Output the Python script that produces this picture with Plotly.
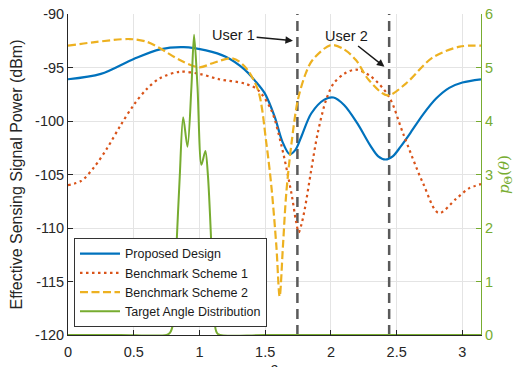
import plotly.graph_objects as go

# ---- data ----
prop_x = [0, 0.25, 0.5, 0.7, 0.88, 1.05, 1.2, 1.344, 1.42, 1.496, 1.572, 1.63, 1.686, 1.73, 1.774, 1.85, 1.95, 2.02,
          2.1, 2.2, 2.3, 2.36, 2.415, 2.47, 2.53, 2.6, 2.7, 2.8, 2.9, 3.0, 3.1416]
prop_y = [-96.1, -95.6, -94.2, -93.3, -93.1, -93.4, -94.0, -95.2, -96.2, -97.4, -99.6, -101.9, -103.1, -102.7, -101.5, -99.3, -98.0, -97.8,
          -98.5, -100.2, -102.3, -103.3, -103.6, -103.3, -102.4, -101.2, -99.4, -97.9, -96.9, -96.4, -96.1]

b1_x = [0, 0.1, 0.2, 0.3, 0.4, 0.5, 0.6, 0.7, 0.85, 1.0, 1.15, 1.344, 1.445, 1.547, 1.62, 1.70, 1.735, 1.755, 1.775, 1.80, 1.85, 1.90,
        1.964, 2.02, 2.1, 2.19, 2.3, 2.44, 2.55, 2.7, 2.82, 2.95, 3.05, 3.1416]
b1_y = [-106.0, -105.6, -104.3, -102.5, -100.4, -98.5, -97.0, -96.0, -95.4, -95.6, -96.1, -96.5, -97.1, -99.0, -102.1, -106.8,
        -109.4, -110.4, -109.7, -108.3, -104.6, -101.1, -98.0, -96.5, -95.6, -95.2, -95.8, -97.7, -101.2, -105.8, -108.6, -107.3, -106.3, -105.9]

b2_x = [0, 0.19, 0.47, 0.6, 0.70, 0.85, 1.0, 1.1, 1.25, 1.344, 1.445, 1.509, 1.547, 1.585, 1.61, 1.635, 1.66, 1.70, 1.749,
        1.81, 1.86, 2.0, 2.1, 2.19, 2.29, 2.43, 2.57, 2.77, 2.98, 3.1416]
b2_y = [-92.96, -92.65, -92.34, -92.6, -93.2, -94.3, -94.98, -94.6, -94.14, -94.9, -97.1, -102.1, -106.1, -111.7, -116.4, -111.7,
        -106.8, -102.1, -98.0, -95.5, -94.3, -92.9, -93.3, -94.3, -96.2, -97.6, -96.5, -94.1, -93.05, -92.96]

tad_x = [0, 0.4, 0.75, 0.775, 0.80, 0.825, 0.85, 0.876, 0.909, 0.939, 0.959, 0.985, 1.015, 1.045, 1.065, 1.091, 1.116,
         1.14, 1.5, 3.1416]
tad_y = [0, 0, 0, 0.04, 0.22, 1.65, 2.96, 4.07, 3.52, 4.64, 5.61, 4.64, 3.18, 3.44, 2.96, 1.65, 0.22,
         0.02, 0, 0]

user_angles = [1.745, 2.443]
user_labels = ["User 1", "User 2"]

y_ticks = [-90, -95, -100, -105, -110, -115, -120]
y_ticktext = ["-90", "-95", "-100", "-105", "-110", "-115", "-120"]
y2_ticks = [0, 1, 2, 3, 4, 5, 6]
x_ticks = [0, 0.5, 1, 1.5, 2, 2.5, 3]
x_ticktext = ["0", "0.5", "1", "1.5", "2", "2.5", "3"]

BLUE = "#0072BD"
RED = "#D95319"
YEL = "#EDB120"
GRN = "#77AC30"
AX = "#262626"
FONT = "Liberation Sans, Arial, sans-serif"

fig = go.Figure()

# vertical user lines
for ua in user_angles:
    fig.add_trace(go.Scatter(x=[ua, ua], y=[-120, -90], mode="lines", showlegend=False,
                             line=dict(color="#5a5a5a", width=2.5, dash="10px,6px"), hoverinfo="skip"))

fig.add_trace(go.Scatter(x=prop_x, y=prop_y, mode="lines", name="Proposed Design",
                         line=dict(color=BLUE, width=2.2, shape="spline", smoothing=0.9)))
fig.add_trace(go.Scatter(x=b1_x, y=b1_y, mode="lines", name="Benchmark Scheme 1",
                         line=dict(color=RED, width=2.2, dash="2.5px,3.5px", shape="spline", smoothing=0.9)))
fig.add_trace(go.Scatter(x=b2_x, y=b2_y, mode="lines", name="Benchmark Scheme 2",
                         line=dict(color=YEL, width=2.2, dash="8px,3.5px", shape="spline", smoothing=0.9)))
fig.add_trace(go.Scatter(x=tad_x, y=tad_y, mode="lines", name="Target Angle Distribution", yaxis="y2",
                         line=dict(color=GRN, width=2, shape="spline", smoothing=0.8)))

# annotations
fig.add_annotation(x=1.711, y=-92.5, ax=1.26, ay=-91.96, xref="x", yref="y", axref="x", ayref="y",
                   text=user_labels[0], showarrow=True, arrowhead=2, arrowsize=1, arrowwidth=1.5,
                   arrowcolor="#1a1a1a", font=dict(family=FONT, size=14.5, color="#1a1a1a"))
fig.add_annotation(x=2.407, y=-94.93, ax=2.115, ay=-92.1, xref="x", yref="y", axref="x", ayref="y",
                   text=user_labels[1], showarrow=True, arrowhead=2, arrowsize=1, arrowwidth=1.5,
                   arrowcolor="#1a1a1a", font=dict(family=FONT, size=14.5, color="#1a1a1a"))
# x-axis title (sits at the bottom edge, as in the reference)
fig.add_annotation(x=0.5, y=-0.08, xref="paper", yref="paper", xanchor="center", yanchor="top",
                   text="θ", showarrow=False, font=dict(family=FONT, size=16, color=AX))

fig.update_layout(
    width=522, height=367,
    margin=dict(l=68, r=41, t=14, b=32),
    paper_bgcolor="white", plot_bgcolor="white",
    font=dict(family=FONT, size=14.5, color=AX),
    showlegend=True,
    legend=dict(x=0.0145, y=0.025, xanchor="left", yanchor="bottom",
                bgcolor="white", bordercolor="#333333", borderwidth=1,
                font=dict(family=FONT, size=12.5, color="#1a1a1a"),
                itemwidth=40, tracegroupgap=0),
    xaxis=dict(range=[0, 3.14159], tickvals=x_ticks, ticktext=x_ticktext,
               showgrid=True, gridcolor="#e4e4e4", gridwidth=1,
               showline=True, linecolor=AX, linewidth=1, mirror=False,
               ticks="inside", ticklen=5, tickcolor=AX, zeroline=False,
               ticklabelstandoff=4,
               automargin=False),
    yaxis=dict(range=[-120, -90], tickvals=y_ticks, ticktext=y_ticktext,
               showgrid=True, gridcolor="#e4e4e4", gridwidth=1,
               showline=True, linecolor=AX, linewidth=1,
               ticks="inside", ticklen=5, tickcolor=AX, zeroline=False,
               title=dict(text="Effective Sensing Signal Power (dBm)",
                          font=dict(family=FONT, size=16, color=AX), standoff=8),
               automargin=False),
    yaxis2=dict(range=[0, 6], tickvals=y2_ticks, overlaying="y", side="right",
                showgrid=False, showline=True, linecolor=GRN, linewidth=1.2,
                ticks="inside", ticklen=5, tickcolor=GRN, zeroline=False,
                tickfont=dict(family=FONT, size=14.5, color=GRN),
                title=dict(text="<i>p</i><sub>Θ</sub>(<i>θ</i>)",
                           font=dict(family="DejaVu Serif, serif", size=15, color=GRN), standoff=6),
                automargin=False),
)

fig.write_html("out.html", config={"displayModeBar": False},
               post_script="document.body.style.margin='0';")
